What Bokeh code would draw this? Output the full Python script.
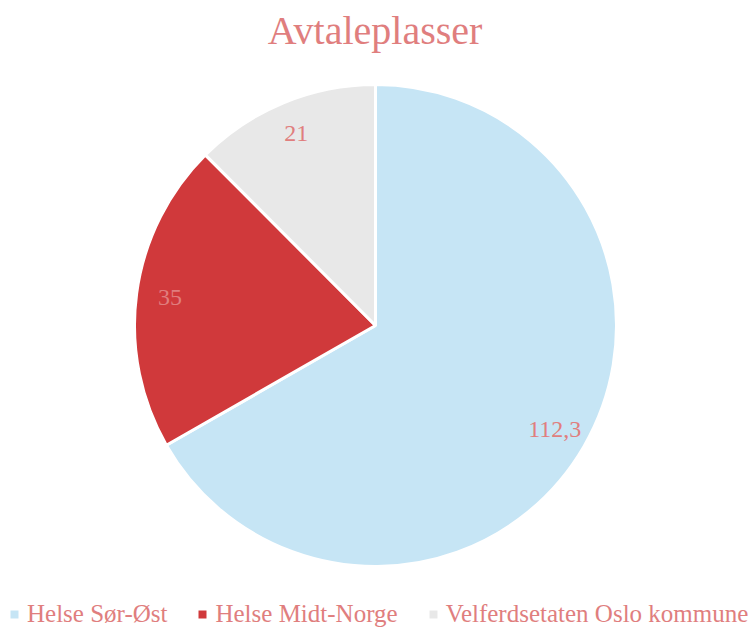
import math
from bokeh.plotting import figure
from bokeh.models import ColumnDataSource, Range1d, Legend, LegendItem
from bokeh.embed import file_html
from bokeh.resources import INLINE
from bokeh.core.properties import value

title_text = "Avtaleplasser"
categories = ["Helse Sør-Øst", "Helse Midt-Norge", "Velferdsetaten Oslo kommune"]
values = [112.3, 35, 21]
labels = ["112,3", "35", "21"]
colors = ["#C6E5F5", "#D0393B", "#E8E8E8"]

W, H = 749, 629
FONT = "Liberation Serif"
TXT = "#E07E7E"

cx, cy, R = 375, H - 325, 241

total = sum(values)
starts, ends, lx, ly = [], [], [], []
cum = 0.0
for v in values:
    a_end = math.pi / 2 - cum / total * 2 * math.pi
    cum += v
    a_start = math.pi / 2 - cum / total * 2 * math.pi
    starts.append(a_start)
    ends.append(a_end)
    mid = (a_start + a_end) / 2
    lx.append(cx + 0.86 * R * math.cos(mid))
    ly.append(cy + 0.86 * R * math.sin(mid))

src = ColumnDataSource(dict(cat=categories, val=values, lab=labels, color=colors,
                            start=starts, end=ends, lx=lx, ly=ly))

p = figure(width=W, height=H, output_backend="svg", toolbar_location=None,
           x_range=Range1d(0, W), y_range=Range1d(0, H), min_border=0)
p.axis.visible = False
p.grid.visible = False
p.outline_line_color = None
p.background_fill_color = "white"

p.wedge(x=cx, y=cy, radius=R, start_angle="start", end_angle="end",
        fill_color="color", line_color="white", line_width=3, source=src)

p.text(x="lx", y="ly", text="lab", source=src, text_font=value(FONT),
       text_font_size="24px", text_color=TXT, text_align="center",
       text_baseline="middle")

p.text(x=[W / 2], y=[H - 30], text=[title_text], text_font=value(FONT),
       text_font_size="40px", text_color=TXT, text_align="center",
       text_baseline="middle")

# legend swatches: zero-area quads used only as legend glyphs
items = []
for c, col in zip(categories, colors):
    rr = p.quad(left=[cx], right=[cx], top=[cy], bottom=[cy],
                fill_color=col, line_color=None)
    items.append(LegendItem(label=c, renderers=[rr]))

legend = Legend(items=items, orientation="horizontal", location=(9, 1),
                label_text_font=FONT, label_text_font_size="25px",
                label_text_color=TXT, glyph_width=10, glyph_height=10,
                label_standoff=8, spacing=30, padding=0, margin=0,
                border_line_alpha=0, background_fill_alpha=0)
p.add_layout(legend)

open("out.html", "w").write(file_html(p, INLINE))
